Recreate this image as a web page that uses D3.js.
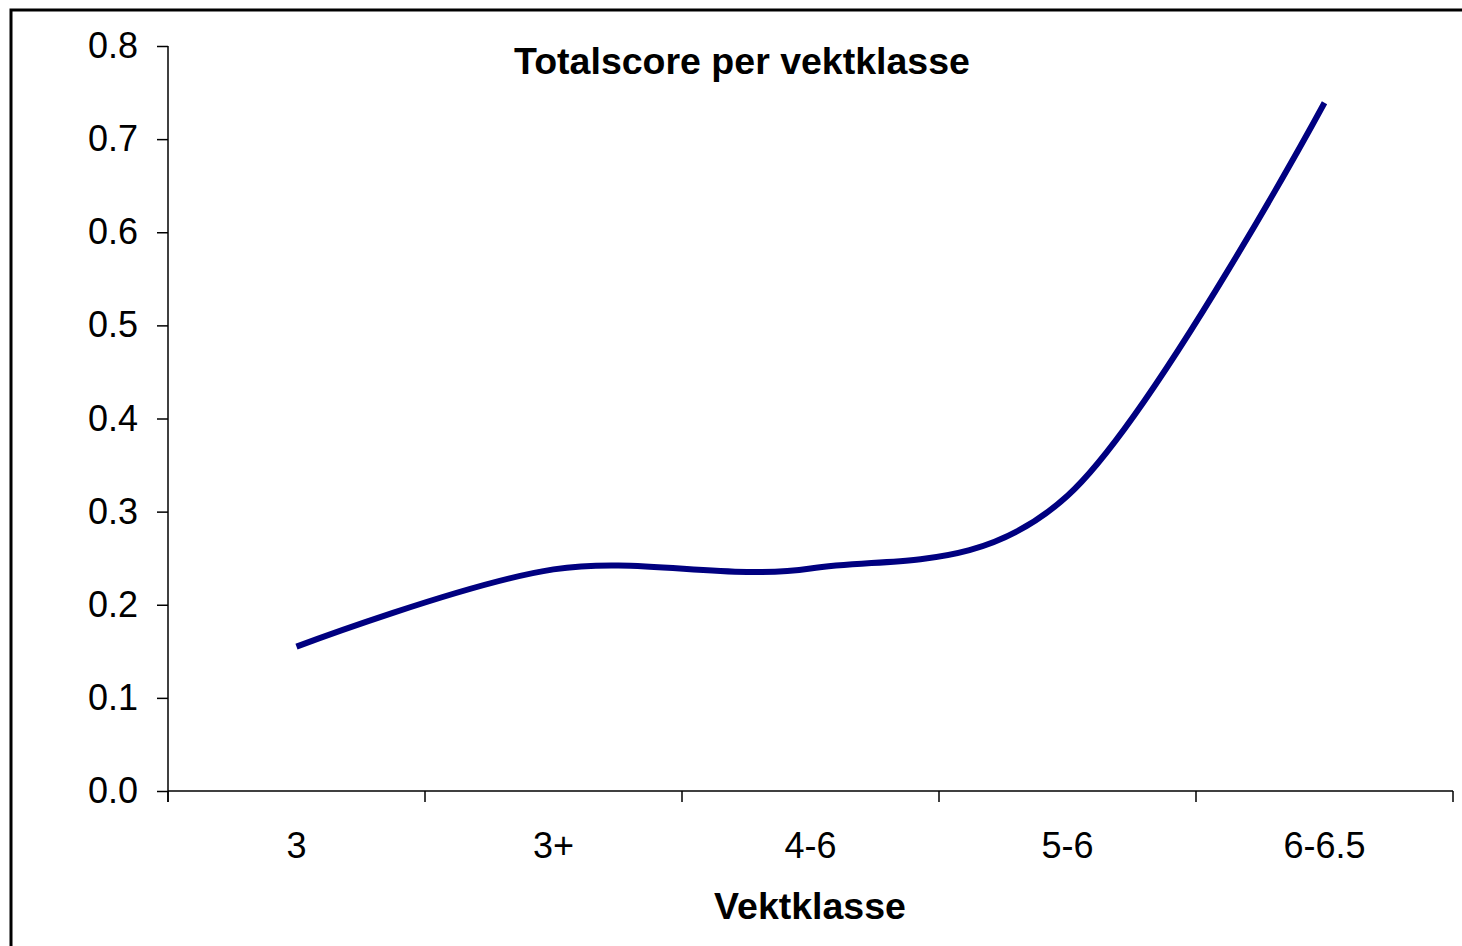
<!DOCTYPE html>
<html>
<head>
<meta charset="utf-8">
<script src="https://cdn.jsdelivr.net/npm/d3@7"></script>
<style>
  html, body { margin: 0; padding: 0; background: #fff; }
  svg { display: block; font-family: "Liberation Sans", Arial, sans-serif; }
</style>
</head>
<body>
<svg id="chart" width="1462" height="946"></svg>
<script>
const categories = ["3", "3+", "4-6", "5-6", "6-6.5"];
const values = [0.155, 0.238, 0.239, 0.317, 0.739];
const yTicks = [0, 0.1, 0.2, 0.3, 0.4, 0.5, 0.6, 0.7, 0.8];
const chartTitle = "Totalscore per vektklasse";
const xTitle = "Vektklasse";

(function () {
const svg = d3.select("#chart");
const W = 1462, H = 946;
const mLeft = 168, mRight = 1453, mTop = 46, mBottom = 791;

svg.append("rect").attr("x", 0).attr("y", 0).attr("width", W).attr("height", H).attr("fill", "#fff");
// outer frame (extends beyond right/bottom edge)
svg.append("rect").attr("x", 11).attr("y", 10).attr("width", W + 20).attr("height", H + 20)
  .attr("fill", "none").attr("stroke", "#000").attr("stroke-width", 3);

const x = d3.scaleBand().domain(categories).range([mLeft, mRight]).paddingInner(0).paddingOuter(0);
const y = d3.scaleLinear().domain([0, 0.8]).range([mBottom, mTop]);

// Y axis
const yAxis = d3.axisLeft(y).tickValues(yTicks).tickFormat(d3.format(".1f")).tickSize(11).tickPadding(19);
const gy = svg.append("g").attr("transform", `translate(${mLeft},0)`).call(yAxis);
gy.select(".domain").attr("stroke", "#000").attr("stroke-width", 1.5).attr("d", `M0,${mTop}V${mBottom + 11}`);
gy.selectAll(".tick line").attr("stroke", "#000").attr("stroke-width", 1.5);
gy.selectAll(".tick text").attr("font-size", 36).attr("fill", "#000")
  .attr("font-family", "'Liberation Sans', Arial, sans-serif");

// X axis: labels at category centres, ticks at band boundaries
const xAxis = d3.axisBottom(x).tickSize(0).tickPadding(0);
const gx = svg.append("g").attr("transform", `translate(0,${mBottom})`).call(xAxis);
gx.select(".domain").attr("stroke", "#000").attr("stroke-width", 1.5).attr("d", `M${mLeft},0H${mRight}`);
gx.selectAll(".tick text").attr("font-size", 36).attr("fill", "#000").attr("dy", null)
  .attr("y", 67).attr("font-family", "'Liberation Sans', Arial, sans-serif");
const edges = categories.map(c => x(c)).concat([x.range()[1]]);
gx.selectAll(".edge").data(edges).enter().append("line")
  .attr("class", "edge").attr("x1", d => d).attr("x2", d => d).attr("y1", 0).attr("y2", 11)
  .attr("stroke", "#000").attr("stroke-width", 1.5);

// Line
const line = d3.line()
  .x((d, i) => x(categories[i]) + x.bandwidth() / 2)
  .y(d => y(d))
  .curve(d3.curveCardinal.tension(0));
svg.append("path").datum(values).attr("d", line)
  .attr("fill", "none").attr("stroke", "#000080").attr("stroke-width", 6);

// Titles
svg.append("text").attr("x", 742).attr("y", 74).attr("text-anchor", "middle")
  .attr("font-size", 37.5).attr("font-weight", "bold").attr("fill", "#000").text(chartTitle);
svg.append("text").attr("x", 810).attr("y", 919).attr("text-anchor", "middle")
  .attr("font-size", 37.5).attr("font-weight", "bold").attr("fill", "#000").text(xTitle);
})();
</script>
</body>
</html>
